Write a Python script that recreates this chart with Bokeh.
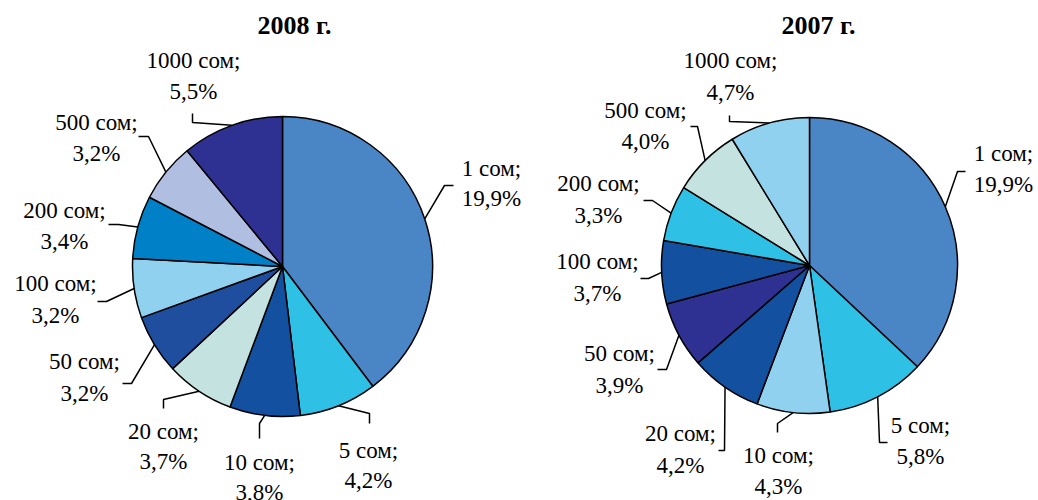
import numpy as np
from bokeh.plotting import figure
from bokeh.models import Range1d, ColumnDataSource
from bokeh.core.properties import value
from bokeh.embed import file_html
from bokeh.resources import INLINE

# ---------------- data ----------------
denominations = ["1", "5", "10", "20", "50", "100", "200", "500", "1000"]
values_2008 = [19.9, 4.2, 3.8, 3.7, 3.2, 3.2, 3.4, 3.2, 5.5]
values_2007 = [19.9, 5.8, 4.3, 4.2, 3.9, 3.7, 3.3, 4.0, 4.7]
titles = ["2008 г.", "2007 г."]
unit = "сом"

colors_2008 = ["#4A86C6", "#2FC0E6", "#1450A0", "#C3E2E0", "#1F4E9E",
               "#8FD1EF", "#0080C6", "#B0BFE1", "#2E3192"]
colors_2007 = ["#4A86C6", "#2FC0E6", "#8FD1EF", "#1450A0", "#2E3192",
               "#1450A0", "#2FC0E6", "#C3E2E0", "#8FD1EF"]

# ---------------- layout (page pixel coords) ----------------
W, H = 1038, 500
FONT = "Liberation Serif"

pies = [
    dict(values=values_2008, colors=colors_2008, title=titles[0],
         cx=282, cy=266, r=150, title_x=294,
         # label centre x, centre y of first line, centre y of second line
         labels=[(491, 168, 198), (368, 450, 480), (259, 462, 492),
                 (163, 431, 461), (84, 361, 393), (55, 283, 315),
                 (64, 210, 241), (96, 122, 153), (193, 60, 91)],
         # leader line points after the rim point
         leaders=[[(444, 185), (453, 185)], [(369, 413), (369, 423)],
                  [(259, 423), (259, 438)], [(163, 399), (163, 408)],
                  [(131, 383), (122, 383)], [(106, 301), (97, 301)],
                  [(118, 224), (108, 224)], [(148, 136), (138, 136)],
                  [(192, 122), (192, 113)]]),
    dict(values=values_2007, colors=colors_2007, title=titles[1],
         cx=809, cy=265, r=148, title_x=818,
         labels=[(1003, 153, 184), (920, 425, 456), (778, 455, 486),
                 (680, 433, 465), (619, 353, 385), (597, 261, 293),
                 (598, 183, 215), (645, 110, 141), (730, 60, 92)],
         leaders=[[(957, 171), (965, 171)], [(879, 442), (887, 442)],
                  [(777, 423), (777, 432)], [(724, 450), (718, 450)],
                  [(666, 369), (657, 369)], [(648, 278), (640, 278)],
                  [(652, 200), (643, 200)], [(697, 126), (690, 126)],
                  [(729, 121), (729, 115)]]),
]

p = figure(width=W, height=H, x_range=Range1d(0, W), y_range=Range1d(-H, 0),
           output_backend="svg", toolbar_location=None, min_border=0,
           x_axis_location=None, y_axis_location=None)
p.grid.visible = False
p.outline_line_color = None
p.background_fill_color = "white"
p.border_fill_color = "white"

for pie in pies:
    vals = np.array(pie["values"], dtype=float)
    frac = vals / vals.sum()
    c1 = np.cumsum(frac)
    c0 = c1 - frac
    cx, cy, r = pie["cx"], -pie["cy"], pie["r"]
    src = ColumnDataSource(dict(
        start=np.pi / 2 - 2 * np.pi * c1,
        end=np.pi / 2 - 2 * np.pi * c0,
        color=pie["colors"],
    ))
    p.wedge(x=cx, y=cy, radius=r, start_angle="start", end_angle="end",
            fill_color="color", line_color="black", line_width=1.5, source=src)

    # leader lines from slice midpoints on the rim
    mid = 2 * np.pi * (c0 + c1) / 2
    xs, ys = [], []
    for k, pts in enumerate(pie["leaders"]):
        rx = cx + r * np.sin(mid[k])
        ry = cy + r * np.cos(mid[k])
        xs.append([rx] + [q[0] for q in pts])
        ys.append([ry] + [-q[1] for q in pts])
    p.multi_line(xs=xs, ys=ys, line_color="black", line_width=1.5)

    # labels
    lx, ly, txt = [], [], []
    for k, (x, y1, y2) in enumerate(pie["labels"]):
        lx += [x, x]
        ly += [-y1, -y2]
        txt += [f"{denominations[k]} {unit};", f"{pie['values'][k]:.1f}%".replace(".", ",")]
    p.text(x=lx, y=ly, text=txt, text_font=value(FONT), text_font_size=value("23px"),
           text_align="center", text_baseline="middle", text_color="black")

    p.text(x=[pie["title_x"]], y=[-25], text=[pie["title"]], text_font=value(FONT),
           text_font_size=value("26px"), text_font_style="bold",
           text_align="center", text_baseline="middle", text_color="black")

open("out.html", "w").write(file_html(p, INLINE))
